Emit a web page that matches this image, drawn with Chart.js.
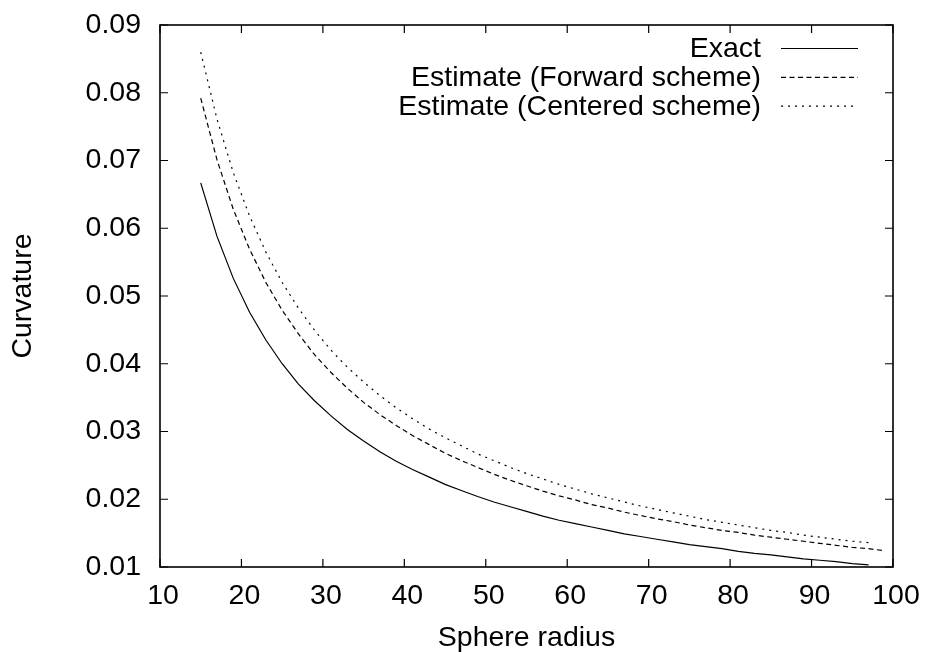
<!DOCTYPE html>
<html>
<head>
<meta charset="utf-8">
<script src="https://cdn.jsdelivr.net/npm/chart.js@4.4.1/dist/chart.umd.min.js"></script>
<style>
  html, body { margin: 0; padding: 0; background: #fff; }
  #wrap { width: 925px; height: 652px; }
</style>
</head>
<body>
<div id="wrap"><canvas id="c" width="925" height="652"></canvas></div>
<script>
// ---- data ----
const radiusExact = [15,17,19,21,23,25,27,29,31,33,35,37,39,41,43,45,47,49,51,53,55,57,59,61,63,65,67,69,71,73,75,77,79,81,83,85,87,89,91,93,95,97];
const exactValues = [0.0667,0.0588,0.0526,0.0476,0.0435,0.0400,0.0370,0.0345,0.0323,0.0303,0.0286,0.0270,0.0256,0.0244,0.0233,0.0222,0.0213,0.0204,0.0196,0.0189,0.0182,0.0175,0.0169,0.0164,0.0159,0.0154,0.0149,0.0145,0.0141,0.0137,0.0133,0.0130,0.0127,0.0123,0.0120,0.0118,0.0115,0.0112,0.0110,0.0108,0.0105,0.0103];

const radiusForward = [15,17,19,21,23,25,27,29,31,33,35,37,39,41,43,45,47,49,51,53,55,57,59,61,63,65,67,69,71,73,75,77,79,81,83,85,87,89,91,93,95,97,99];
const forwardValues = [0.0792,0.0701,0.0628,0.0569,0.0520,0.0479,0.0444,0.0413,0.0387,0.0364,0.0343,0.0325,0.0309,0.0294,0.0281,0.0268,0.0257,0.0247,0.0237,0.0228,0.0220,0.0212,0.0205,0.0199,0.0192,0.0187,0.0181,0.0176,0.0171,0.0167,0.0162,0.0158,0.0154,0.0151,0.0147,0.0144,0.0141,0.0138,0.0135,0.0132,0.0129,0.0127,0.0124];

const radiusCentered = [15,17,19,21,23,25,27,29,31,33,35,37,39,41,43,45,47,49,51,53,55,57,59,61,63,65,67,69,71,73,75,77,79,81,83,85,87,89,91,93,95,97];
const centeredValues = [0.0860,0.0761,0.0682,0.0618,0.0565,0.0520,0.0482,0.0449,0.0420,0.0395,0.0373,0.0353,0.0335,0.0319,0.0304,0.0291,0.0279,0.0267,0.0257,0.0247,0.0238,0.0230,0.0222,0.0215,0.0208,0.0202,0.0196,0.0190,0.0185,0.0180,0.0175,0.0170,0.0166,0.0162,0.0158,0.0154,0.0151,0.0147,0.0144,0.0141,0.0138,0.0136];

const seriesLabels = ['Exact', 'Estimate (Forward scheme)', 'Estimate (Centered scheme)'];
const xTickValues = [10,20,30,40,50,60,70,80,90,100];
const yTickValues = [0.01,0.02,0.03,0.04,0.05,0.06,0.07,0.08,0.09];
const yTickLabels = ['0.01','0.02','0.03','0.04','0.05','0.06','0.07','0.08','0.09'];
const xTitle = 'Sphere radius';
const yTitle = 'Curvature';

// ---- chart ----
const FONT = 'Liberation Sans, Arial, Helvetica, sans-serif';
const FS = 28.5;
const toPts = (xs, ys) => xs.map((x, i) => ({x: x, y: ys[i]}));

const frameAndTicks = {
  id: 'frameAndTicks',
  afterDatasetsDraw(chart) {
    const {ctx, chartArea: a, scales} = chart;
    const L = 8;
    ctx.save();
    ctx.strokeStyle = '#000';
    ctx.lineWidth = 1.2;
    ctx.beginPath();
    scales.x.ticks.forEach(t => {
      const p = scales.x.getPixelForValue(t.value);
      ctx.moveTo(p, a.bottom); ctx.lineTo(p, a.bottom - L);
      ctx.moveTo(p, a.top); ctx.lineTo(p, a.top + L);
    });
    scales.y.ticks.forEach(t => {
      const p = scales.y.getPixelForValue(t.value);
      ctx.moveTo(a.left, p); ctx.lineTo(a.left + L, p);
      ctx.moveTo(a.right, p); ctx.lineTo(a.right - L, p);
    });
    ctx.stroke();
    ctx.lineWidth = 1.6;
    ctx.strokeRect(a.left, a.top, a.right - a.left, a.bottom - a.top);
    ctx.restore();
  }
};

const keyPlugin = {
  id: 'keyPlugin',
  afterDatasetsDraw(chart) {
    const {ctx} = chart;
    const textRight = 761;
    const lineX0 = 781, lineX1 = 858;
    const rowY0 = 48.5, rowStep = 28.8;
    ctx.save();
    ctx.font = FS + 'px ' + FONT;
    ctx.textAlign = 'right';
    ctx.textBaseline = 'middle';
    chart.data.datasets.forEach((ds, i) => {
      const y = rowY0 + i * rowStep;
      ctx.fillStyle = '#000';
      ctx.fillText(ds.label, textRight, y + 1);
      ctx.strokeStyle = ds.borderColor;
      ctx.lineWidth = ds.borderWidth;
      ctx.setLineDash(ds.borderDash || []);
      ctx.beginPath();
      ctx.moveTo(lineX0, y);
      ctx.lineTo(lineX1, y);
      ctx.stroke();
    });
    ctx.restore();
  }
};

new Chart(document.getElementById('c'), {
  type: 'line',
  data: {
    datasets: [
      { label: seriesLabels[0], data: toPts(radiusExact, exactValues), borderColor: '#000', borderWidth: 1.2, borderDash: [], pointRadius: 0, fill: false, tension: 0 },
      { label: seriesLabels[1], data: toPts(radiusForward, forwardValues), borderColor: '#000', borderWidth: 1.2, borderDash: [5, 3.5], pointRadius: 0, fill: false, tension: 0 },
      { label: seriesLabels[2], data: toPts(radiusCentered, centeredValues), borderColor: '#000', borderWidth: 1.2, borderDash: [2, 5], pointRadius: 0, fill: false, tension: 0 }
    ]
  },
  options: {
    responsive: false,
    animation: false,
    devicePixelRatio: 1,
    layout: { padding: { left: 0, right: 32, top: 25, bottom: 0 } },
    plugins: { legend: { display: false }, tooltip: { enabled: false } },
    scales: {
      x: {
        type: 'linear', min: 10, max: 100,
        afterBuildTicks: s => { s.ticks = xTickValues.map(v => ({value: v})); },
        afterFit: s => { s.height = 85; s.paddingLeft = 0; s.paddingRight = 0; },
        grid: { display: false, drawTicks: false },
        border: { display: false },
        ticks: { color: '#000', font: { family: FONT, size: FS }, padding: 12, labelOffset: 3, maxRotation: 0, autoSkip: false,
                 callback: v => String(v) },
        title: { display: true, text: xTitle, color: '#000', font: { family: FONT, size: FS, lineHeight: 1 }, padding: { top: 0, bottom: 0 } }
      },
      y: {
        type: 'linear', min: 0.01, max: 0.09,
        afterBuildTicks: s => { s.ticks = yTickValues.map(v => ({value: v})); },
        afterFit: s => { s.width = 160; s.paddingTop = 0; s.paddingBottom = 0; },
        grid: { display: false, drawTicks: false },
        border: { display: false },
        ticks: { color: '#000', font: { family: FONT, size: FS }, padding: 19, autoSkip: false,
                 callback: (v) => { const i = yTickValues.findIndex(t => Math.abs(t - v) < 1e-9); return i >= 0 ? yTickLabels[i] : ''; } },
        title: { display: true, text: yTitle, color: '#000', font: { family: FONT, size: FS, lineHeight: 1 }, padding: { top: 9, bottom: 0 } }
      }
    }
  },
  plugins: [frameAndTicks, keyPlugin]
});
</script>
</body>
</html>
